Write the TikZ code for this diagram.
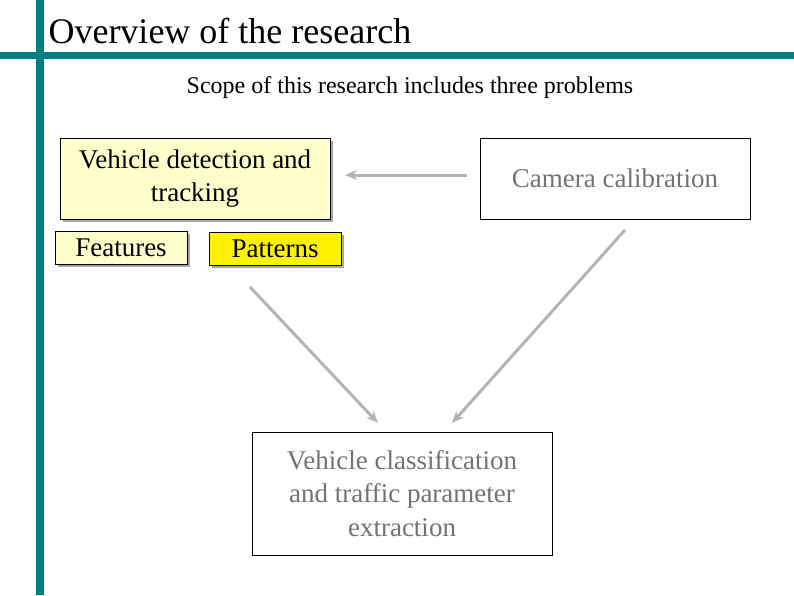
\documentclass[tikz,border=0pt]{standalone}
\usepackage{fontspec}
\setmainfont{Liberation Serif}
\usetikzlibrary{arrows.meta}
\definecolor{teal1}{HTML}{008080}
\definecolor{lyel}{HTML}{FFFFCC}
\definecolor{arr}{HTML}{B4B4B4}
\begin{document}
\begin{tikzpicture}[x=1pt,y=-1pt,
 box/.style={draw=black,line width=0.8pt,inner sep=0pt,align=center,font=\fontsize{27}{33.5}\selectfont},
 sh/.style={preaction={fill=black!35,transform canvas={shift={(2.5pt,-2.5pt)}}}},
 ar/.style={draw=arr,line width=3pt,-{Stealth[length=12pt,width=10pt]}}]
\useasboundingbox (0,0) rectangle (794,595);
\fill[teal1] (36,0) rectangle (44,595);
\fill[teal1] (0,52) rectangle (794,59);
\node[anchor=west,font=\fontsize{36}{40}\selectfont] (title) at (45,31) {Overview of the research};
\node[font=\fontsize{24}{28}\selectfont] (scope) at (410,88) {Scope of this research includes three problems};
\node[box,sh,fill=lyel,minimum width=270pt,minimum height=81pt] (vd) at (195,178.5) {Vehicle detection and\\tracking};
\node[box,sh,fill=lyel,minimum width=132pt,minimum height=33pt] (feat) at (121,247.5) {Features};
\node[box,sh,fill=yellow,minimum width=132pt,minimum height=33pt] (pat) at (275,248.5) {Patterns};
\node[box,fill=white,text=black!55,minimum width=270pt,minimum height=81pt] (cam) at (615,178.5) {Camera calibration};
\node[box,fill=white,text=black!55,minimum width=300pt,minimum height=123pt] (vc) at (402,493.5) {Vehicle classification\\and traffic parameter\\extraction};
\coordinate (a1) at (467,175);
\coordinate (b1) at (345,175);
\coordinate (a2) at (250,287);
\coordinate (b2) at (378,423);
\coordinate (a3) at (625,230);
\coordinate (b3) at (452,423);
\draw[ar] (a1) -- (b1);
\draw[ar] (a2) -- (b2);
\draw[ar] (a3) -- (b3);
\end{tikzpicture}
\end{document}
